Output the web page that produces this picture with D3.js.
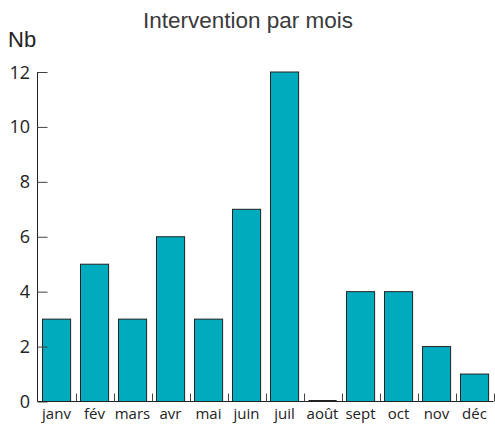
<!DOCTYPE html>
<html><head><meta charset="utf-8">
<script src="https://cdn.jsdelivr.net/npm/d3@7"></script>
<style>body{margin:0;background:#fff}</style>
</head><body>
<script>
const months = ["janv","fév","mars","avr","mai","juin","juil","août","sept","oct","nov","déc"];
const values = [3,5,3,6,3,7,12,0,4,4,2,1];
const yTicks = [0,2,4,6,8,10,12];
const title = "Intervention par mois";
const yLabel = "Nb";

const W=495,H=426;
const svg=d3.select("body").append("svg").attr("width",W).attr("height",H);
const x=d3.scaleBand().domain(months).range([37.5,493.5]).paddingInner(0.26).paddingOuter(0.13);
const y=d3.scaleLinear().domain([0,12]).range([401.5,72]);

svg.append("text").attr("x",248).attr("y",28).attr("text-anchor","middle")
  .attr("font-family","Liberation Sans, Arial, sans-serif").attr("font-size",22.5).attr("fill","#3a3a3a")
  .text(title);
svg.append("text").attr("x",8).attr("y",47)
  .attr("font-family","Liberation Sans, Arial, sans-serif").attr("font-size",22).attr("fill","#222")
  .text(yLabel);

// bars
svg.selectAll("rect.bar").data(values).join("rect").attr("class","bar")
  .attr("x",(d,i)=>Math.round(x(months[i]))+0.5)
  .attr("y",d=>y(d))
  .attr("width",x.bandwidth())
  .attr("height",d=>y(0)-y(d))
  .attr("fill","#00abbd").attr("stroke","#222").attr("stroke-width",1);
// zero-height bars drawn as a line
svg.selectAll("line.zero").data(values.map((v,i)=>({v,i})).filter(d=>d.v===0)).join("line").attr("class","zero")
  .attr("x1",d=>Math.round(x(months[d.i]))+0.5).attr("x2",d=>Math.round(x(months[d.i]))+0.5+x.bandwidth())
  .attr("y1",y(0)-1).attr("y2",y(0)-1).attr("stroke","#222");

// y axis
const ya=svg.append("g").attr("transform","translate(37.5,0)")
  .call(d3.axisRight(y).tickValues(yTicks).tickSize(10).tickFormat(""));
ya.select(".domain").attr("stroke","#222").attr("d",`M0,${y(12)}V${y(0)}`);
ya.selectAll(".tick line").attr("stroke","#444");
svg.selectAll("text.ylab").data(yTicks).join("text").attr("class","ylab")
  .attr("x",30).attr("y",d=>y(d)+6.5).attr("text-anchor","end")
  .attr("font-family","Open Sans, sans-serif").attr("font-size",18).attr("fill","#222")
  .text(d=>d);

// x axis
const step=x.step();
const bounds=d3.range(13).map(i=>37.5+i*step);
svg.append("line").attr("x1",37.5).attr("x2",493.5).attr("y1",y(0)).attr("y2",y(0)).attr("stroke","#222");
svg.selectAll("line.xt").data(bounds.slice(1)).join("line").attr("class","xt")
  .attr("x1",d=>Math.round(d)+0.5).attr("x2",d=>Math.round(d)+0.5)
  .attr("y1",y(0)).attr("y2",y(0)-8).attr("stroke","#444");
svg.selectAll("text.xlab").data(months).join("text").attr("class","xlab")
  .attr("x",d=>x(d)+x.bandwidth()/2).attr("y",419).attr("text-anchor","middle")
  .attr("font-family","Open Sans, sans-serif").attr("font-size",15).attr("fill","#222")
  .text(d=>d);
</script>
</body></html>
